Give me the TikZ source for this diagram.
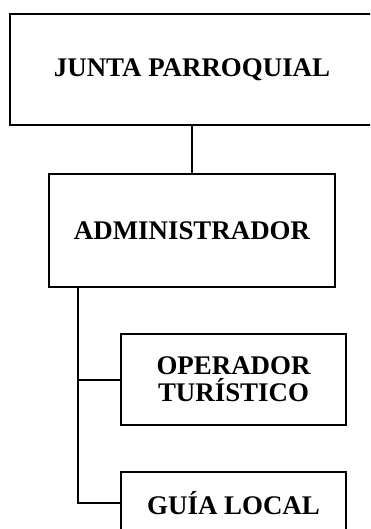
\documentclass[tikz,border=0pt]{standalone}
\usepackage{fontspec}
\setmainfont{Liberation Serif}
\begin{document}
\begin{tikzpicture}[x=1bp,y=-1bp,
  box/.style={draw,line width=2bp,inner sep=0pt,align=center,
    font=\bfseries\fontsize{27}{27}\selectfont},
  link/.style={line width=2bp}]
\useasboundingbox (0,0) rectangle (370,529);
\clip (0,0) rectangle (370,529);
\node[box,minimum width=364bp,minimum height=111bp] (j) at (192,69.5) {JUNTA PARROQUIAL};
\node[box,minimum width=286bp,minimum height=113bp] (a) at (192,230.5) {ADMINISTRADOR};
\node[box,minimum width=225bp,minimum height=91bp] (op) at (233.5,379.5) {OPERADOR\\TURÍSTICO};
\node[box,minimum width=225bp,minimum height=62bp] (g) at (233.5,503) {GUÍA LOCAL};
\coordinate (t) at (78,0);
\draw[link] (j.south) -- (a.north);
\draw[link] (a.south -| t) |- (op.west);
\draw[link] (a.south -| t) |- (g.west);
\end{tikzpicture}
\end{document}
